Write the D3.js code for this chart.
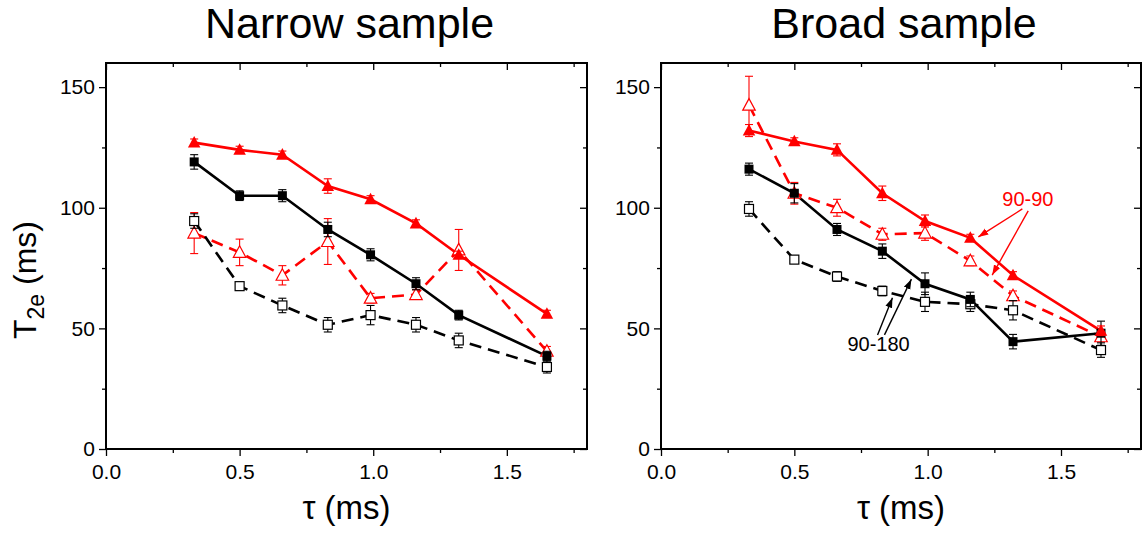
<!DOCTYPE html>
<html><head><meta charset="utf-8">
<script src="https://cdn.jsdelivr.net/npm/d3@7"></script>
<style>body{margin:0;background:#fff}svg{display:block;font-family:"Liberation Sans",Arial,sans-serif}</style>
</head><body>
<svg id="c" width="1148" height="533"></svg>
<script>
// ---- data ----
const tau = [0.33, 0.5, 0.66, 0.83, 0.99, 1.16, 1.32, 1.65];
const panelTitles = ["Narrow sample", "Broad sample"];
const xTicks = [0, 0.5, 1.0, 1.5];
const xTickLabels = ["0.0", "0.5", "1.0", "1.5"];
const yTicks = [0, 50, 100, 150];
const yTickLabels = ["0", "50", "100", "150"];

// Narrow sample
const narrowRedFilled = [127, 124, 122, 109, 103.5, 93.5, 80.5, 56];
const narrowRedFilledErr = [1.5, 1.5, 1.5, 3, 1.5, 1.5, 1.5, 1.5];
const narrowBlackFilled = [119, 105, 105, 91, 80.5, 68.5, 55.5, 38.5];
const narrowBlackFilledErr = [3, 2, 2.5, 3, 2.5, 2.5, 2, 2];
const narrowRedOpen = [89.5, 81.5, 72, 86, 62.5, 64, 82.5, 40.5];
const narrowRedOpenErr = [8.5, 5.5, 4, 9.5, 2, 2, 8.5, 2];
const narrowBlackOpen = [94.5, 67.5, 59.5, 51.5, 55.5, 51.5, 45, 34];
const narrowBlackOpenErr = [3, 1.5, 3, 3, 4, 3, 3, 2.5];

// Broad sample
const broadRedFilled = [132, 127.5, 124, 106, 94.5, 87.5, 72, 49];
const broadRedFilledErr = [2.5, 1.5, 2.5, 3, 2.5, 1.5, 1.5, 2];
const broadBlackFilled = [116, 106, 91, 82, 68.5, 62, 44.5, 48];
const broadBlackFilledErr = [2.5, 4, 2.5, 3, 4.5, 3, 3, 5];
const broadRedOpen = [142.5, 106, 100, 89, 89.5, 78, 63.5, 46.5];
const broadRedOpenErr = [12, 4.5, 3.5, 2.5, 3, 2, 2, 2];
const broadBlackOpen = [99.5, 78.5, 71.5, 65.5, 61, 60, 57.5, 41];
const broadBlackOpenErr = [3, 1.5, 2, 2, 4, 3, 4, 3];

// annotations (broad panel, data coords)
const label9090 = {text: "90-90", x: 1.376, y: 100.7};
const arrows9090 = [[1.355, 99.5, 1.190, 87.9], [1.377, 98.7, 1.242, 72.1]];
const label90180 = {text: "90-180", x: 0.816, y: 40.6};
const arrows90180 = [[0.812, 47.3, 0.868, 62.7], [0.838, 47.3, 0.939, 70.4]];

// ---- drawing ----
const svg = d3.select("#c");
const RED = "#ff0000";
const defs = svg.append("defs");
[["ahRed", RED], ["ahBlack", "#000"]].forEach(([id, col]) => {
  defs.append("marker").attr("id", id).attr("viewBox", "0 0 10 10").attr("refX", 10).attr("refY", 5)
    .attr("markerWidth", 10).attr("markerHeight", 10).attr("markerUnits", "userSpaceOnUse").attr("orient", "auto")
    .append("path").attr("d", "M0,1.5 L10,5 L0,8.5 Z").attr("fill", col);
});

const panels = [
  {left: 106, right: 587, title: panelTitles[0],
   series: [
     {v: narrowRedOpen, e: narrowRedOpenErr, color: RED, dash: "12,7", sym: "triOpen"},
     {v: narrowBlackOpen, e: narrowBlackOpenErr, color: "#000", dash: "12,7", sym: "sqOpen"},
     {v: narrowBlackFilled, e: narrowBlackFilledErr, color: "#000", dash: null, sym: "sqFill"},
     {v: narrowRedFilled, e: narrowRedFilledErr, color: RED, dash: null, sym: "triFill"}]},
  {left: 661, right: 1141, title: panelTitles[1],
   series: [
     {v: broadRedOpen, e: broadRedOpenErr, color: RED, dash: "12,7", sym: "triOpen"},
     {v: broadBlackOpen, e: broadBlackOpenErr, color: "#000", dash: "12,7", sym: "sqOpen"},
     {v: broadBlackFilled, e: broadBlackFilledErr, color: "#000", dash: null, sym: "sqFill"},
     {v: broadRedFilled, e: broadRedFilledErr, color: RED, dash: null, sym: "triFill"}]}
];
const plotTop = 63, plotBottom = 449;

panels.forEach((p, pi) => {
  const x = d3.scaleLinear().domain([0, 1.8]).range([p.left, p.right]);
  const y = d3.scaleLinear().domain([0, 160]).range([plotBottom, plotTop]);
  const g = svg.append("g");

  // title
  g.append("text").attr("x", (p.left + p.right) / 2 + 3).attr("y", 38)
    .attr("text-anchor", "middle").attr("font-size", 43).text(p.title);

  const xMinor = [0.25, 0.75, 1.25, 1.75];
  const yMinor = [25, 75, 125];
  const xFmt = (d) => { const i = xTicks.indexOf(d); return i >= 0 ? xTickLabels[i] : ""; };
  const yFmt = (d) => { const i = yTicks.indexOf(d); return i >= 0 ? yTickLabels[i] : ""; };

  const ax = (gen, tr, vals, size, fmt) => {
    const a = g.append("g").attr("transform", tr).call(gen.tickValues(vals).tickSize(size).tickSizeOuter(0).tickFormat(fmt));
    a.select(".domain").remove();
    a.selectAll(".tick line").attr("stroke", "#000").attr("stroke-width", 1.3);
    a.selectAll("text").attr("font-size", 21).attr("fill", "#000").attr("font-family", "Liberation Sans, Arial, sans-serif");
    return a;
  };
  const bx = ax(d3.axisBottom(x), `translate(0,${plotBottom})`, xTicks, 7, xFmt);
  bx.selectAll("text").attr("dy", "0.95em");
  ax(d3.axisBottom(x), `translate(0,${plotBottom})`, xMinor, 4, () => "");
  ax(d3.axisBottom(x), `translate(0,${plotTop})`, xTicks, 7, () => "");
  ax(d3.axisBottom(x), `translate(0,${plotTop})`, xMinor, 4, () => "");
  const ly = ax(d3.axisLeft(y), `translate(${p.left},0)`, yTicks, 7, yFmt);
  ly.selectAll("text").attr("dx", "-0.05em");
  ax(d3.axisLeft(y), `translate(${p.left},0)`, yMinor, 4, () => "");
  ax(d3.axisLeft(y), `translate(${p.right},0)`, yTicks, 7, () => "");
  ax(d3.axisLeft(y), `translate(${p.right},0)`, yMinor, 4, () => "");

  g.append("rect").attr("x", p.left).attr("y", plotTop).attr("width", p.right - p.left).attr("height", plotBottom - plotTop)
    .attr("fill", "none").attr("stroke", "#000").attr("stroke-width", 2);

  const xt = g.append("text").attr("x", x(0.9)).attr("y", 519).attr("text-anchor", "middle").attr("font-size", 33);
  xt.append("tspan").text("τ");
  xt.append("tspan").text(" (ms)");

  if (pi === 0) {
    const yt = svg.append("text").attr("transform", "translate(36,280) rotate(-90)").attr("text-anchor", "middle").attr("font-size", 32);
    yt.append("tspan").text("T");
    yt.append("tspan").attr("font-size", 23).attr("dy", 8).text("2e");
    yt.append("tspan").attr("dy", -8).text(" (ms)");
  }

  const line = d3.line().x((d, i) => x(tau[i])).y(d => y(d));
  p.series.forEach(s => {
    g.append("path").datum(s.v).attr("d", line).attr("fill", "none").attr("stroke", s.color)
      .attr("stroke-width", 2.6).attr("stroke-dasharray", s.dash);
  });
  p.series.forEach(s => {
    const eg = g.append("g").attr("stroke", s.color).attr("stroke-width", 1.1);
    s.v.forEach((v, i) => {
      const cx = x(tau[i]), y1 = y(v + s.e[i]), y2 = y(v - s.e[i]);
      eg.append("line").attr("x1", cx).attr("x2", cx).attr("y1", y1).attr("y2", y2);
      eg.append("line").attr("x1", cx - 4).attr("x2", cx + 4).attr("y1", y1).attr("y2", y1);
      eg.append("line").attr("x1", cx - 4).attr("x2", cx + 4).attr("y1", y2).attr("y2", y2);
    });
    const mg = g.append("g");
    s.v.forEach((v, i) => {
      const cx = x(tau[i]), cy = y(v);
      if (s.sym === "sqFill") {
        mg.append("rect").attr("x", cx - 4.5).attr("y", cy - 4.5).attr("width", 9).attr("height", 9).attr("fill", s.color);
      } else if (s.sym === "sqOpen") {
        mg.append("rect").attr("x", cx - 4.5).attr("y", cy - 4.5).attr("width", 9).attr("height", 9)
          .attr("fill", "#fff").attr("stroke", s.color).attr("stroke-width", 1.2);
      } else {
        const h = 11, w = 12.5;
        const d = `M${cx},${cy - h * 0.6} L${cx + w / 2},${cy + h * 0.45} L${cx - w / 2},${cy + h * 0.45} Z`;
        if (s.sym === "triFill") mg.append("path").attr("d", d).attr("fill", s.color);
        else mg.append("path").attr("d", d).attr("fill", "#fff").attr("stroke", s.color).attr("stroke-width", 1.2);
      }
    });
  });

  if (pi === 1) {
    g.append("text").attr("x", x(label9090.x)).attr("y", y(label9090.y)).attr("text-anchor", "middle")
      .attr("font-size", 20).attr("fill", RED).text(label9090.text);
    arrows9090.forEach(a => g.append("line").attr("x1", x(a[0])).attr("y1", y(a[1])).attr("x2", x(a[2])).attr("y2", y(a[3]))
      .attr("stroke", RED).attr("stroke-width", 1.4).attr("marker-end", "url(#ahRed)"));
    g.append("text").attr("x", x(label90180.x)).attr("y", y(label90180.y)).attr("text-anchor", "middle")
      .attr("font-size", 20).attr("fill", "#000").text(label90180.text);
    arrows90180.forEach(a => g.append("line").attr("x1", x(a[0])).attr("y1", y(a[1])).attr("x2", x(a[2])).attr("y2", y(a[3]))
      .attr("stroke", "#000").attr("stroke-width", 1.4).attr("marker-end", "url(#ahBlack)"));
  }
});
</script>
</body></html>
